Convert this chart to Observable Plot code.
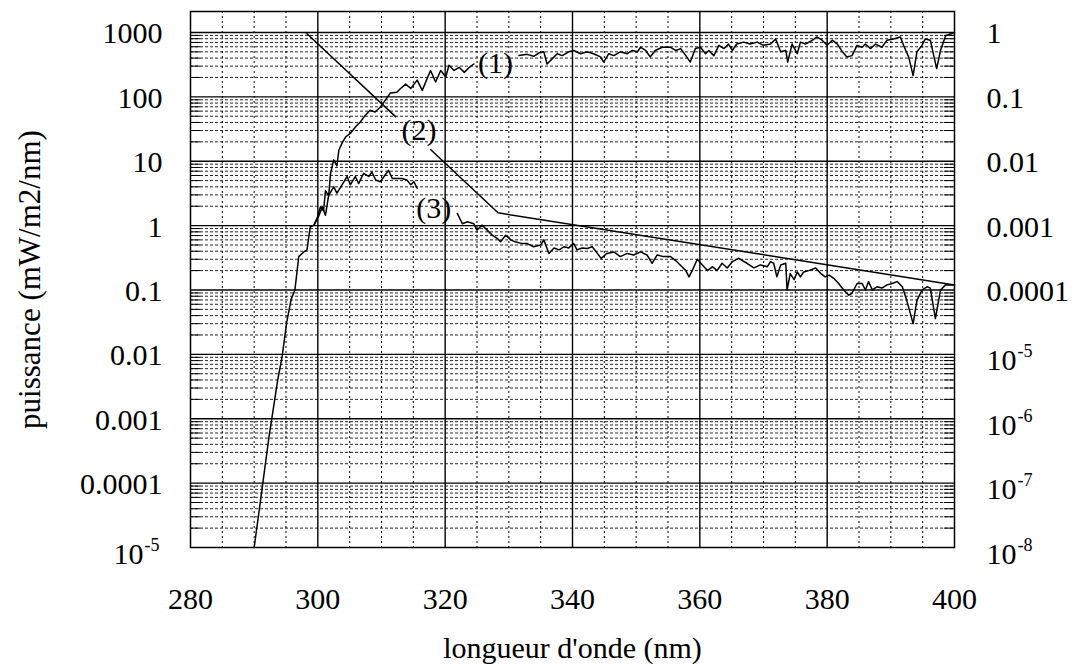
<!DOCTYPE html>
<html><head><meta charset="utf-8">
<script src="https://cdn.jsdelivr.net/npm/d3@7"></script>
<script src="https://cdn.jsdelivr.net/npm/@observablehq/plot@0.6"></script>
<style>html,body{margin:0;padding:0;background:#fff}</style>
</head><body><div id="chart"></div>
<script>
// Curve (1): wavelength (nm) and power (mW/m2/nm); null = gap where the "(1)" label sits
const wave1 = [290.0,291.0,292.3,293.7,294.4,295.1,295.8,296.4,297.0,297.8,298.3,298.8,299.4,300.0,300.4,300.9,301.2,301.7,302.0,302.5,303.0,303.3,303.9,304.4,305.1,305.9,306.7,307.4,308.2,309.0,309.8,310.6,311.4,312.4,313.0,313.8,314.6,315.6,316.4,317.7,318.5,319.3,320.1,320.6,321.4,322.2,323.0,323.8,324.5,328.0,
  331.6,332.9,333.9,334.7,335.5,336.0,336.8,337.6,338.4,339.4,340.2,341.3,342.3,343.3,344.4,344.9,345.7,346.5,347.5,348.6,349.4,350.2,350.7,351.5,352.2,353.0,354.1,355.4,356.2,357.0,357.8,358.5,359.3,360.1,360.9,361.4,362.2,363.0,363.8,364.5,365.1,365.8,366.9,367.9,369.0,370.0,371.1,371.9,372.7,373.5,373.8,374.5,375.3,375.8,376.6,377.7,378.4,379.2,380.0,380.8,381.6,382.4,383.1,383.9,384.7,385.5,386.0,386.8,387.6,388.6,389.4,390.4,391.5,392.0,392.8,393.5,394.1,394.9,395.4,396.2,397.2,397.8,398.6,400.0];
const power1 = [1e-5,5.4e-5,5e-4,0.004,0.0093,0.031,0.071,0.1,0.33,0.39,0.42,0.95,1.02,1.4,1.95,1.7,3.5,2.9,6.5,10.5,8.5,14.8,20,24,27,34,41,51,62,58,69,89,115,118,135,158,135,182,126,257,170,257,204,309,257,288,240,288,324,null,
  437,457,427,479,501,324,389,468,437,501,525,468,501,468,417,347,468,437,501,468,525,501,589,525,417,525,589,589,525,562,437,347,562,589,468,525,437,631,562,661,525,661,708,661,708,631,661,794,501,525,347,661,468,708,661,759,851,759,631,759,661,501,417,437,631,589,661,562,661,589,759,794,851,631,417,214,501,631,794,759,275,525,891,1000];

// Curve (3): null = gap where the "(3)" label sits
const wave3 = [299.4,300.1,300.7,301.2,301.7,302.5,303.0,303.8,304.6,305.1,305.9,306.4,307.2,308.0,308.5,309.1,309.8,310.4,311.1,311.7,312.4,313.2,314.0,314.6,315.1,315.6,318.0,
  321.9,322.7,323.5,324.5,325.0,325.8,326.6,327.4,328.2,328.7,329.5,330.3,331.0,332.1,332.9,333.9,335.0,335.5,336.3,337.1,337.9,338.7,339.4,340.2,340.7,341.5,342.3,343.1,343.9,344.5,345.4,346.5,347.5,348.6,349.6,350.7,351.7,352.5,353.3,354.3,355.4,356.4,357.2,357.8,358.3,358.8,359.6,360.4,361.2,362.0,362.7,363.5,364.3,365.1,366.1,367.4,368.5,369.5,370.6,371.1,371.6,372.1,372.7,373.5,373.7,374.2,374.8,375.3,375.8,376.3,377.1,378.2,379.0,379.7,380.3,381.1,381.8,382.6,383.4,383.9,384.7,385.5,386.0,386.5,387.1,387.8,388.6,389.4,390.2,391.0,391.8,392.5,393.5,394.1,394.9,395.7,396.2,397.0,397.8,398.6,399.9];
const power3 = [1.02,1.38,1.95,1.45,2.95,4.0,3.2,4.3,5.8,4.3,5.8,4.5,6.5,5.8,6.8,5.1,4.8,5.8,7.2,5.4,5.4,5.4,5.1,4.3,4.8,3.8,null,
  1.55,1.07,1.15,1.07,0.85,1.02,0.85,0.71,0.63,0.56,0.71,0.60,0.56,0.525,0.525,0.47,0.50,0.60,0.37,0.45,0.42,0.47,0.45,0.525,0.42,0.45,0.44,0.47,0.37,0.31,0.37,0.39,0.33,0.37,0.35,0.39,0.35,0.26,0.35,0.33,0.33,0.275,0.23,0.20,0.16,0.20,0.30,0.245,0.20,0.23,0.20,0.26,0.22,0.275,0.31,0.26,0.22,0.245,0.23,0.275,0.26,0.16,0.245,0.26,0.10,0.18,0.145,0.19,0.16,0.19,0.20,0.22,0.18,0.16,0.17,0.15,0.126,0.10,0.083,0.089,0.126,0.126,0.10,0.135,0.10,0.112,0.107,0.12,0.126,0.135,0.112,0.069,0.030,0.069,0.10,0.112,0.107,0.036,0.10,0.12,0.12];

// Curve (2): read on the right axis; null = gap where the "(2)" label sits
const wave2 = [298.1,312.2,315.0,317.7,328.3,400.0];
const relative2 = [1,0.0493,null,0.0152,0.00158,0.00012];
const rightToLeft = 1000; // right axis value 1 sits at left axis value 1000

// Axes
const xTicks = [280,300,320,340,360,380,400];
const leftTickValues = [1000,100,10,1,0.1,0.01,0.001,0.0001,0.00001];
const leftTickLabels = ["1000","100","10","1","0.1","0.01","0.001","0.0001","10^-5"];
const rightTickLabels = ["1","0.1","0.01","0.001","0.0001","10^-5","10^-6","10^-7","10^-8"];

// Curve labels
const curveLabels = ["(1)","(2)","(3)"];
const curveLabelX = [327.9,315.9,318.2];
const curveLabelY = [331,30,1.85];

const xTitle = "longueur d'onde (nm)";
const yTitle = "puissance (mW/m2/nm)";

// ---------- build ----------
const rows = (xs, ys) => xs.map((x, i) => ({x, y: ys[i]}));
const c1 = rows(wave1, power1);
const c3 = rows(wave3, power3);
const c2 = rows(wave2, relative2.map(v => v == null ? null : v * rightToLeft));

const majorX = xTicks.slice(1, -1);
const minorX = d3.range(285, 400, 5).filter(v => v % 20 !== 0);
const decades = leftTickValues.slice(0, -1);
const minorY = [];
for (let k = -5; k <= 2; k++) for (let m = 2; m <= 9; m++) minorY.push(m * Math.pow(10, k));

const ticks = leftTickValues.map((v, i) => {
  const L = leftTickLabels[i].split("^"), R = rightTickLabels[i].split("^");
  return {v, lBase: L[0], lExp: L[1] || null, rBase: R[0], rExp: R[1] || null};
});
const lPlain = ticks.filter(d => !d.lExp), lSup = ticks.filter(d => d.lExp);
const rPlain = ticks.filter(d => !d.rExp), rSup = ticks.filter(d => d.rExp);

const FONT = "'Liberation Serif','Times New Roman',serif";
const dotted = {stroke: "#000", strokeWidth: 1};
const labs = curveLabels.map((t, i) => ({t, x: curveLabelX[i], y: curveLabelY[i]}));

const chart = Plot.plot({
  width: 1079, height: 667,
  marginTop: 11, marginBottom: 120, marginLeft: 190, marginRight: 125,
  style: {fontFamily: FONT, background: "#fff", color: "#000"},
  x: {domain: [280, 400], axis: null},
  y: {type: "log", domain: [1e-5, 2117], axis: null},
  marks: [
    Plot.ruleX(minorX, {...dotted, strokeDasharray: "2,3"}),
    Plot.ruleY(minorY, {...dotted, strokeDasharray: "3,2", strokeOpacity: 0.85}),
    Plot.ruleX(majorX, {stroke: "#000", strokeWidth: 1.4}),
    Plot.ruleY(decades, {stroke: "#000", strokeWidth: 1.4}),
    Plot.ruleY(minorY, {y: d => d, x1: 280, x2: 281.6, stroke: "#000", strokeWidth: 1}),
    Plot.ruleY(minorY, {y: d => d, x1: 398.4, x2: 400, stroke: "#000", strokeWidth: 1}),
    Plot.frame({stroke: "#000", strokeWidth: 1.5}),
    Plot.line(c1, {x: "x", y: "y", stroke: "#000", strokeWidth: 1.5}),
    Plot.line(c3, {x: "x", y: "y", stroke: "#000", strokeWidth: 1.5}),
    Plot.line(c2, {x: "x", y: "y", stroke: "#000", strokeWidth: 1.5}),
    Plot.text(labs, {x: "x", y: "y", text: "t", fontSize: 30, fill: "#000", lineAnchor: "middle"}),
    // left tick labels
    Plot.text(lPlain, {y: "v", text: "lBase", frameAnchor: "left", textAnchor: "end", lineAnchor: "bottom", dx: -28, dy: 11, fontSize: 30, fill: "#000"}),
    Plot.text(lSup, {y: "v", text: "lBase", frameAnchor: "left", textAnchor: "end", lineAnchor: "bottom", dx: -47, dy: 16, fontSize: 30, fill: "#000"}),
    Plot.text(lSup, {y: "v", text: "lExp", frameAnchor: "left", textAnchor: "end", lineAnchor: "bottom", dx: -31, dy: 3, fontSize: 18, fill: "#000"}),
    // right tick labels
    Plot.text(rPlain, {y: "v", text: "rBase", frameAnchor: "right", textAnchor: "start", lineAnchor: "bottom", dx: 32, dy: 11, fontSize: 30, fill: "#000"}),
    Plot.text(rSup, {y: "v", text: "rBase", frameAnchor: "right", textAnchor: "start", lineAnchor: "bottom", dx: 32, dy: 16, fontSize: 30, fill: "#000"}),
    Plot.text(rSup, {y: "v", text: "rExp", frameAnchor: "right", textAnchor: "start", lineAnchor: "bottom", dx: 63, dy: 3, fontSize: 18, fill: "#000"}),
    // x tick labels
    Plot.text(xTicks, {x: d => d, text: d => String(d), frameAnchor: "bottom", textAnchor: "middle", lineAnchor: "bottom", dy: 61, fontSize: 30, fill: "#000"}),
    // titles
    Plot.text([xTitle], {text: d => d, frameAnchor: "bottom", textAnchor: "middle", lineAnchor: "bottom", dy: 110, fontSize: 30, fill: "#000"}),
    Plot.text([yTitle], {text: d => d, frameAnchor: "left", textAnchor: "middle", lineAnchor: "middle", dx: -160, rotate: -90, fontSize: 31, fill: "#000"})
  ]
});
document.getElementById("chart").appendChild(chart);
</script>
</body></html>
